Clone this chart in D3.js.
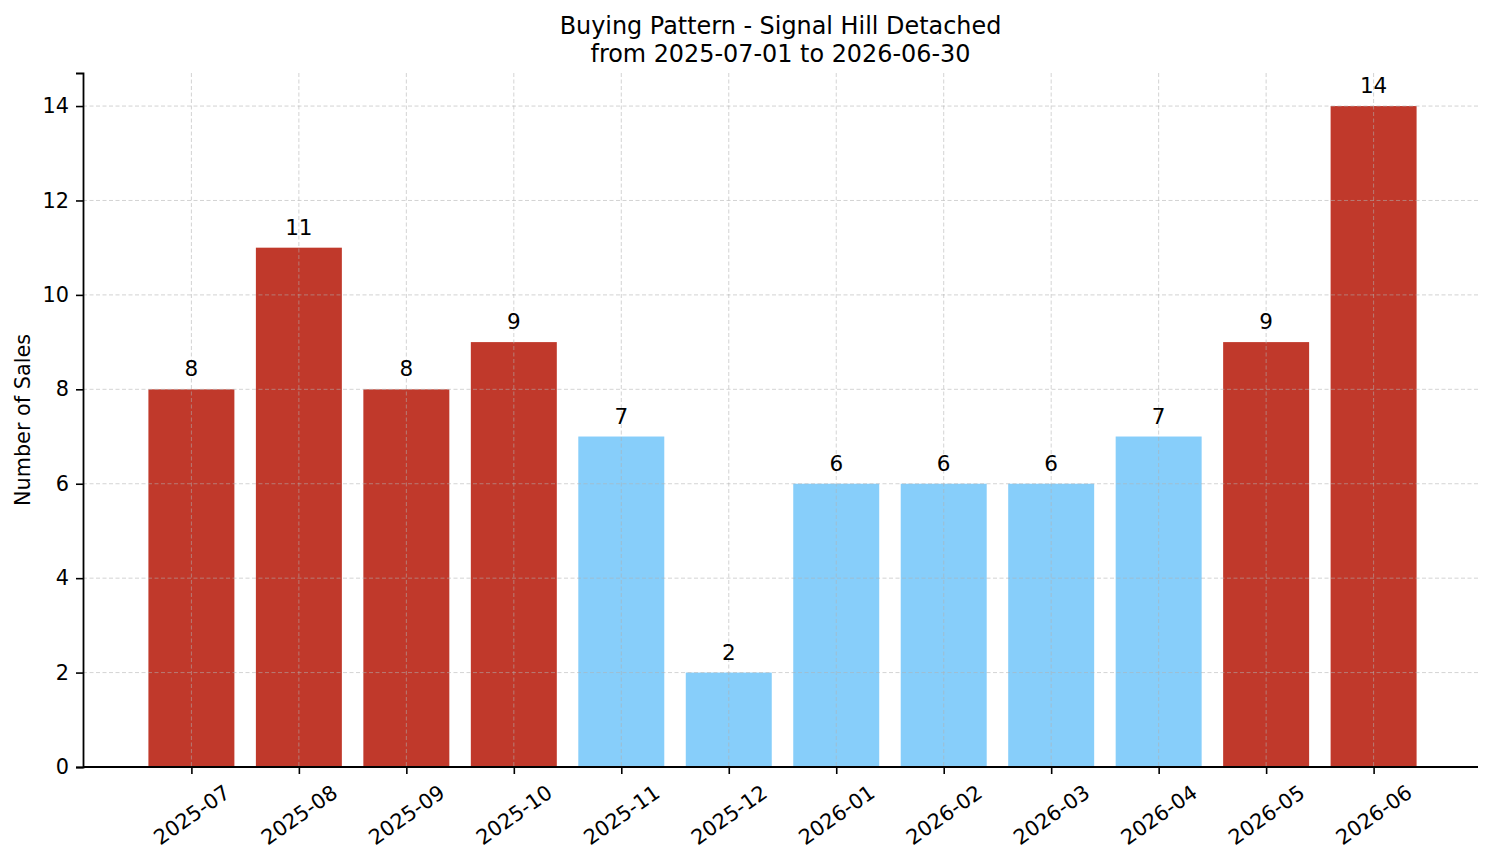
<!DOCTYPE html>
<html>
<head>
<meta charset="utf-8">
<script src="https://cdn.jsdelivr.net/npm/d3@7"></script>
<style>
  body { margin: 0; background: #fff; }
  svg { display: block; font-family: "DejaVu Sans", sans-serif; }
</style>
</head>
<body>
<div id="vis"></div>
<script>
// frame constants
const FRAME_WIDTH = 1494;
const FRAME_HEIGHT = 863;
const MARGINS = {left: 83, right: 16, top: 73, bottom: 96};

// chart data
const MONTHS = ["2025-07", "2025-08", "2025-09", "2025-10", "2025-11", "2025-12",
                "2026-01", "2026-02", "2026-03", "2026-04", "2026-05", "2026-06"];
const SALES = [8, 11, 8, 9, 7, 2, 6, 6, 6, 7, 9, 14];
const Y_TICKS = [0, 2, 4, 6, 8, 10, 12, 14];
const TITLE_LINES = ["Buying Pattern - Signal Hill Detached", "from 2025-07-01 to 2026-06-30"];
const Y_LABEL = "Number of Sales";

const HOT = "#c0392b";
const COLD = "#87cefa";
const BAR_W = 0.8;

const data = MONTHS.map((m, i) => ({month: m, value: SALES[i], idx: i}));
const MEAN = d3.mean(SALES);

const FRAME = d3.select("#vis")
                .append("svg")
                  .attr("width", FRAME_WIDTH)
                  .attr("height", FRAME_HEIGHT);

// x scale with matplotlib style 5% margins
const xMin = -BAR_W / 2, xMax = MONTHS.length - 1 + BAR_W / 2;
const pad = (xMax - xMin) * 0.05;
const X_SCALE = d3.scaleLinear()
                  .domain([xMin - pad, xMax + pad])
                  .range([MARGINS.left + 2, FRAME_WIDTH - MARGINS.right + 2]);

const Y_SCALE = d3.scaleLinear()
                  .domain([0, d3.max(SALES) * 1.05])
                  .range([FRAME_HEIGHT - MARGINS.bottom, MARGINS.top]);

const unit = X_SCALE(1) - X_SCALE(0);

// bars
FRAME.selectAll(".bar")
    .data(data)
    .enter()
    .append("rect")
      .attr("class", "bar")
      .attr("x", d => X_SCALE(d.idx - BAR_W / 2))
      .attr("width", unit * BAR_W)
      .attr("y", d => Y_SCALE(d.value))
      .attr("height", d => Y_SCALE(0) - Y_SCALE(d.value))
      .attr("fill", d => d.value > MEAN ? HOT : COLD);

// grid (drawn above bars)
const grid = FRAME.append("g")
    .attr("stroke", "#b0b0b0")
    .attr("stroke-opacity", 0.7)
    .attr("stroke-width", 0.8)
    .attr("stroke-dasharray", "4,2.5");

grid.selectAll(".gy")
    .data(Y_TICKS)
    .enter()
    .append("line")
      .attr("x1", MARGINS.left)
      .attr("x2", FRAME_WIDTH - MARGINS.right)
      .attr("y1", d => Y_SCALE(d))
      .attr("y2", d => Y_SCALE(d));

grid.selectAll(".gx")
    .data(data)
    .enter()
    .append("line")
      .attr("x1", d => X_SCALE(d.idx))
      .attr("x2", d => X_SCALE(d.idx))
      .attr("y1", MARGINS.top)
      .attr("y2", FRAME_HEIGHT - MARGINS.bottom);

// value labels
FRAME.selectAll(".val")
    .data(data)
    .enter()
    .append("text")
      .attr("x", d => X_SCALE(d.idx))
      .attr("y", d => Y_SCALE(d.value) - 13)
      .attr("text-anchor", "middle")
      .attr("font-size", "21.5px")
      .attr("fill", "#000")
      .text(d => d.value);

// y axis
const yAxis = FRAME.append("g")
    .attr("transform", "translate(" + MARGINS.left + ",0)")
    .call(d3.axisLeft(Y_SCALE).tickValues(Y_TICKS).tickSize(7).tickPadding(7));
yAxis.select(".domain").attr("stroke", "#000").attr("stroke-width", 1.8);
yAxis.selectAll(".tick line").attr("stroke", "#000").attr("stroke-width", 1.6);
yAxis.selectAll(".tick text")
    .attr("font-family", "DejaVu Sans")
    .attr("font-size", "20.8px")
    .attr("fill", "#000");

// x axis
const xAxis = FRAME.append("g")
    .attr("transform", "translate(0," + (FRAME_HEIGHT - MARGINS.bottom) + ")")
    .call(d3.axisBottom(X_SCALE).tickValues(d3.range(MONTHS.length))
            .tickFormat(i => MONTHS[i]).tickSize(7).tickSizeOuter(0));
xAxis.select(".domain").attr("stroke", "#000").attr("stroke-width", 1.8)
    .attr("d", "M" + MARGINS.left + ",0H" + (FRAME_WIDTH - MARGINS.right));
xAxis.selectAll(".tick line").attr("stroke", "#000").attr("stroke-width", 1.6);

// rotate labels 35deg around their centre, top of bbox under the tick
const ANGLE = 35 * Math.PI / 180;
xAxis.selectAll(".tick text")
    .attr("font-family", "DejaVu Sans")
    .attr("font-size", "20.8px")
    .attr("fill", "#000")
    .attr("text-anchor", "middle")
    .attr("dy", null)
    .attr("dominant-baseline", "central")
    .each(function() {
      const w = this.getComputedTextLength();
      const h = 20.8 * 0.95;
      const bh = w * Math.sin(ANGLE) + h * Math.cos(ANGLE);
      const cy = 15 + bh / 2;
      d3.select(this)
        .attr("y", 0)
        .attr("transform", "translate(0," + cy + ") rotate(-35)");
    });

// y label
FRAME.append("text")
    .attr("transform", "translate(23," + ((MARGINS.top + FRAME_HEIGHT - MARGINS.bottom) / 2) + ") rotate(-90)")
    .attr("text-anchor", "middle")
    .attr("dominant-baseline", "central")
    .attr("font-size", "20.8px")
    .text(Y_LABEL);

// title
const titleX = (MARGINS.left + FRAME_WIDTH - MARGINS.right) / 2;
FRAME.selectAll(".title")
    .data(TITLE_LINES)
    .enter()
    .append("text")
      .attr("x", titleX)
      .attr("y", (d, i) => 34 + i * 28)
      .attr("text-anchor", "middle")
      .attr("font-size", "23.9px")
      .text(d => d);
</script>
</body>
</html>
